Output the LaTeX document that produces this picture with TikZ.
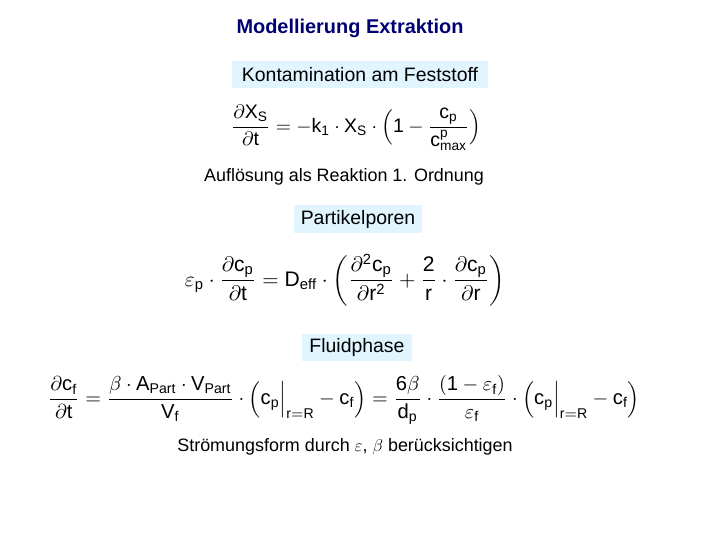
\documentclass[tikz,border=0pt]{standalone}
\usepackage{fontspec}
\setmainfont{Liberation Sans}
\usepackage{amsmath}
\begin{document}
\begin{tikzpicture}[x=1bp,y=-1bp,
  lbl/.style={fill=cyan!12,inner sep=3pt,font=\fontsize{19.5}{22}\selectfont},
  txt/.style={font=\fontsize{18}{21}\selectfont},
  eq/.style={inner sep=0pt}]
\useasboundingbox (0,0) rectangle (720,540);
\node[font=\bfseries\fontsize{20}{24}\selectfont,text=blue!45!black] (title) at (350,28) {Modellierung Extraktion};
\node[lbl,minimum width=256bp,minimum height=27bp] (k) at (360,75) {Kontamination am Feststoff};
\node[eq] (e1) at (356,128) {\resizebox{250bp}{!}{$\dfrac{\partial \mathrm{X_S}}{\partial \mathrm{t}} = -\mathrm{k_1}\cdot \mathrm{X_S}\cdot\Bigl(\mathrm{1}-\dfrac{\mathrm{c_p}}{\mathrm{c^p_{max}}}\Bigr)$}};
\node[txt] (a) at (344,177) {Auflösung als Reaktion 1. Ordnung};
\node[lbl,minimum width=128bp,minimum height=28bp] (p) at (358,219) {Partikelporen};
\node[eq] (e2) at (345,280) {\resizebox{320bp}{!}{$\varepsilon_{\mathrm p}\cdot\dfrac{\partial \mathrm{c_p}}{\partial \mathrm{t}} = \mathrm{D_{eff}}\cdot\left(\dfrac{\partial^{\mathrm{2}} \mathrm{c_p}}{\partial \mathrm{r}^{\mathrm{2}}}+\dfrac{\mathrm{2}}{\mathrm r}\cdot\dfrac{\partial \mathrm{c_p}}{\partial \mathrm{r}}\right)$}};
\node[lbl,minimum width=110bp,minimum height=27bp] (f) at (357,347) {Fluidphase};
\node[eq] (e3) at (344,400) {\resizebox{592bp}{!}{$\dfrac{\partial \mathrm{c_f}}{\partial \mathrm{t}} = \dfrac{\beta\cdot \mathrm{A_{Part}}\cdot \mathrm{V_{Part}}}{\mathrm{V_f}}\cdot\Bigl(\mathrm{c_p}\Bigr|_{\mathrm{r=R}}-\mathrm{c_f}\Bigr) = \dfrac{\mathrm{6}\beta}{\mathrm{d_p}}\cdot\dfrac{(\mathrm{1}-\varepsilon_{\mathrm f})}{\varepsilon_{\mathrm f}}\cdot\Bigl(\mathrm{c_p}\Bigr|_{\mathrm{r=R}}-\mathrm{c_f}\Bigr)$}};
\node[txt] (s) at (345,447) {Strömungsform durch $\varepsilon$, $\beta$ berücksichtigen};
\end{tikzpicture}
\end{document}
